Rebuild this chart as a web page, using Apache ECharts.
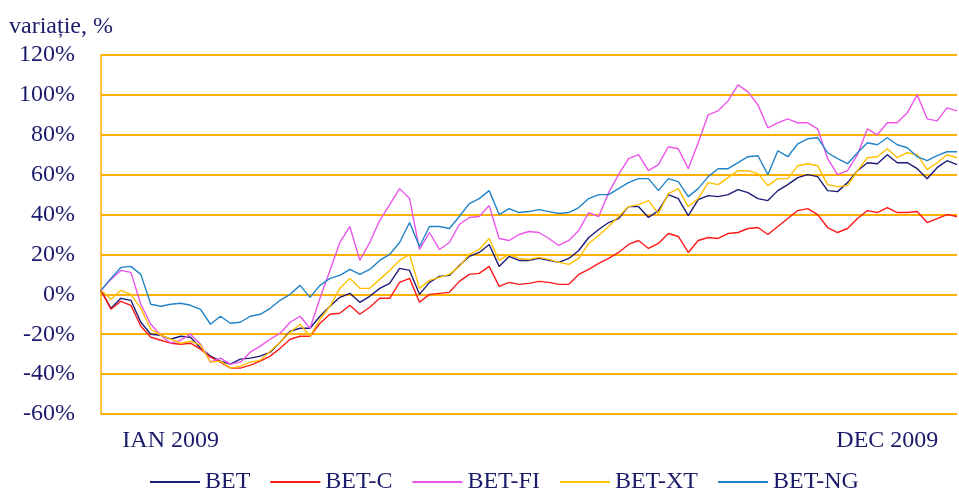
<!DOCTYPE html>
<html>
<head>
<meta charset="utf-8">
<script src="https://cdn.jsdelivr.net/npm/echarts@6/dist/echarts.min.js"></script>
<style>
  html, body { margin: 0; padding: 0; background: #fff; }
  #chart { width: 959px; height: 490px; }
</style>
</head>
<body>
<div id="chart"></div>
<script>
// Sampled points through 2009 (roughly every 3 trading days), variation in %
const seriesNames = ['BET', 'BET-C', 'BET-FI', 'BET-XT', 'BET-NG'];
const tickLabels = ['IAN 2009', 'DEC 2009'];
const tickIndices = [7, 79];
const yTicks = [-60, -40, -20, 0, 20, 40, 60, 80, 100, 120];

const bet = [2, -7, -2, -3, -14, -20, -20.5, -22.5, -21, -21.5,
  -27, -31, -33.5, -35, -32.5, -32, -31, -29, -24, -18.5,
  -17, -17, -11, -6, -1.5, 0.5, -4, -1, 3, 5.5,
  13, 12, 0, 6, 9, 9.5, 14.5, 19, 21, 25,
  14, 19, 17, 17, 18, 17, 16, 18, 22, 28.5,
  32.5, 36, 38, 44, 44, 38.5, 42, 50, 48, 39.5,
  47.5, 49.5, 49, 50, 52.5, 51, 48, 47, 52, 55,
  58.5, 60, 59, 52, 51.5, 56, 62, 66, 65.5, 70,
  66, 66, 63, 58, 63.5, 67, 65];

const betC = [2, -7.5, -3.5, -5.5, -16, -21.5, -23, -24.5, -25, -24.5,
  -27.5, -31.5, -34, -37, -37, -35.5, -33.5, -31, -27, -22.5,
  -21, -21, -14.5, -10, -9.5, -5.5, -10, -6.5, -2, -2,
  6, 8, -4, 0, 0.5, 1, 6.5, 10, 10.5, 14,
  4, 6, 5, 5.5, 6.5, 6, 5, 5, 10, 12.5,
  15.5, 18, 21, 25, 27, 23, 25.5, 30.5, 29, 21,
  27, 28.5, 28, 30.5, 31, 33, 33.5, 30, 34, 38,
  42, 43, 40, 33.5, 31, 33, 38, 42, 41, 43.5,
  41, 41, 41.5, 36, 38, 40, 39];

const betFI = [2, 7.5, 12, 11, -5, -15, -20.5, -24.5, -23, -20,
  -25, -34, -32, -35, -34, -29, -26, -22.5, -19.5, -14,
  -11, -17, -2, 12, 26, 34, 17, 26, 37, 45,
  53, 48, 22.5, 31, 22.5, 26, 35, 38.5, 39, 44.5,
  28, 27, 30, 31.5, 31, 28, 24.5, 27, 32, 41,
  39, 51, 60, 68, 70, 62, 65, 74, 73, 63,
  76, 90, 92, 97, 105, 101.5, 95, 83.5, 86, 88,
  86, 86, 83, 68, 60, 62, 70, 83, 80, 86,
  86, 91, 100, 88, 87, 93.5, 92];

const betXT = [2, -2.5, 2, 0, -7, -17.5, -20.5, -22.5, -24.5, -23.5,
  -25.5, -34, -33.5, -37, -36, -34, -33, -28.5, -24, -19,
  -15, -21, -12.5, -6, 3, 8, 3, 3, 7.5, 12,
  17, 20, 3, 7, 8.5, 10, 14, 20, 22.5, 28,
  17, 20, 18, 17.5, 18.5, 17.5, 16, 15, 18, 25.5,
  29.5, 34, 39, 44, 45, 47, 40.5, 50.5, 53, 44,
  48, 56, 55, 58.5, 62, 62, 60.5, 54.5, 58, 58,
  64.5, 65.5, 64.5, 55, 54, 54.5, 62, 68.5, 69, 73,
  68.5, 71, 70, 62.5, 66, 70, 68.5];

const betNG = [2, 8, 13.5, 14, 10, -5, -6, -5, -4.5, -5.5,
  -7.5, -15, -11, -14.5, -14, -11, -10, -7, -3, 0,
  4.5, -1.5, 4.5, 8, 9.5, 12.5, 10, 12.5, 17, 20,
  26, 36, 24, 34, 34, 33, 39, 45.5, 48, 52,
  40, 43, 41, 41.5, 42.5, 41.5, 40.5, 41, 43.5, 48,
  50, 50, 53, 56, 58, 58, 52, 58, 56.5, 49,
  53, 59, 63, 63, 66, 69, 69.5, 60, 72, 69,
  75.5, 78, 78.5, 71, 68, 65.5, 71, 76, 75, 78.5,
  75, 73.5, 69, 67, 69.5, 71.5, 71.5];

const seriesData = [bet, betC, betFI, betXT, betNG];
const seriesColors = ['#1c1c78', '#ff1a1a', '#ea55ea', '#ffc000', '#2283c8'];
const categories = bet.map((_, i) => i);

const textColor = '#1b1b6b';
const fontFam = '"Liberation Serif", "DejaVu Serif", serif';
const gridColor = '#ffb000';
const fs = 24;

const chart = echarts.init(document.getElementById('chart'), null, { renderer: 'canvas' });
chart.setOption({
  animation: false,
  backgroundColor: '#ffffff',
  title: {
    text: 'variație, %',
    left: 4, top: 10,
    textStyle: { color: textColor, fontFamily: fontFam, fontSize: fs, fontWeight: 'normal' }
  },
  legend: {
    top: 465,
    left: 145,
    itemWidth: 50,
    itemHeight: 2,
    itemGap: 20,
    icon: 'rect',
    data: seriesNames,
    textStyle: { color: textColor, fontFamily: fontFam, fontSize: fs }
  },
  grid: { left: 101, right: 2, top: 55, bottom: 76, containLabel: false },
  xAxis: {
    type: 'category',
    data: categories,
    boundaryGap: false,
    axisLine: { show: false },
    axisTick: { show: false },
    splitLine: { show: false },
    axisLabel: {
      interval: (idx) => tickIndices.indexOf(idx) >= 0,
      formatter: (val, idx) => {
        const k = tickIndices.indexOf(idx);
        return k >= 0 ? tickLabels[k] : '';
      },
      margin: 15,
      color: textColor, fontFamily: fontFam, fontSize: fs
    }
  },
  yAxis: {
    type: 'value',
    min: yTicks[0], max: yTicks[yTicks.length - 1], interval: 20,
    axisLine: { show: true, lineStyle: { color: gridColor, width: 1.5 } },
    axisTick: { show: false },
    splitLine: { show: true, lineStyle: { color: gridColor, width: 2 } },
    axisLabel: {
      formatter: '{value}%',
      margin: 26,
      color: textColor, fontFamily: fontFam, fontSize: fs
    }
  },
  series: seriesNames.map((name, k) => ({
    name: name,
    type: 'line',
    data: seriesData[k],
    symbol: 'none',
    smooth: false,
    color: seriesColors[k],
    lineStyle: { color: seriesColors[k], width: 1.4 },
    z: 2 + k
  }))
});
</script>
</body>
</html>
